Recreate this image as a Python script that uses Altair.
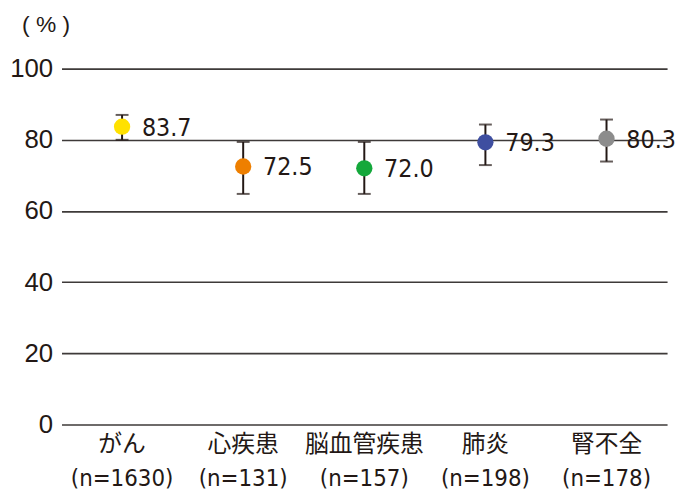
import altair as alt
import pandas as pd

categories = ["がん", "心疾患", "脳血管疾患", "肺炎", "腎不全"]
n_labels = ["(n=1630)", "(n=131)", "(n=157)", "(n=198)", "(n=178)"]
values = [83.7, 72.5, 72.0, 79.3, 80.3]
lower = [80.0, 64.8, 64.8, 72.9, 73.9]
upper = [87.0, 79.4, 79.4, 84.3, 85.7]
colors = ["#FFE100", "#EE7F00", "#14A83B", "#3E4EA0", "#8C8C8C"]
y_ticks = [0, 20, 40, 60, 80, 100]

labels = [c + "\n" + n for c, n in zip(categories, n_labels)]
df = pd.DataFrame({
    "label": labels,
    "value": values,
    "lower": lower,
    "upper": upper,
    "color": colors,
    "text": [f"{v:.1f}" for v in values],
})

INK = "#231815"
FONT = "Liberation Sans, Noto Sans CJK JP"
NARROW = "DejaVu Sans Condensed, Liberation Sans, Noto Sans CJK JP"

x = alt.X("label:N", sort=labels, title=None,
          scale=alt.Scale(paddingInner=0, paddingOuter=0),
          axis=alt.Axis(labelAngle=0, ticks=False, domain=False,
                        labelExpr="split(datum.label, '\\n')",
                        labelFont=NARROW, labelFontSize=24, labelColor=INK,
                        labelLineHeight=35, labelPadding=8, labelBaseline="top"))
y_scale = alt.Scale(domain=[0, 100], nice=False)

base = alt.Chart(df)

err = base.mark_rule(color=INK, strokeWidth=2).encode(
    x=x,
    y=alt.Y("lower:Q", scale=y_scale, title="( % )",
            axis=alt.Axis(values=y_ticks, ticks=False, domain=False,
                          grid=True, gridColor="#3e3a39", gridWidth=1.6,
                          labelFont=FONT, labelFontSize=26, labelColor=INK,
                          labelPadding=9,
                          titleFont=FONT, titleFontSize=23,
                          titleFontWeight="normal", titleColor=INK,
                          titleAngle=0, titleAlign="center", titleBaseline="middle",
                          titleX=-16, titleY=-45)),
    y2="upper:Q",
)
cap_lo = base.mark_tick(color=INK, thickness=2, size=13, orient="horizontal").encode(
    x=x, y=alt.Y("lower:Q", scale=y_scale))
cap_hi = base.mark_tick(color=INK, thickness=2, size=13, orient="horizontal").encode(
    x=x, y=alt.Y("upper:Q", scale=y_scale))
pts = base.mark_circle(size=270, opacity=1).encode(
    x=x, y=alt.Y("value:Q", scale=y_scale),
    color=alt.Color("color:N", scale=None))
txt = base.mark_text(align="left", baseline="middle", dx=20, dy=1,
                     font=NARROW, fontSize=25, color=INK).encode(
    x=x, y=alt.Y("value:Q", scale=y_scale), text="text:N")

chart = alt.layer(err, cap_lo, cap_hi, pts, txt).properties(
    width=611, height=359,
    autosize=alt.AutoSizeParams(type="none"),
    padding={"left": 54, "top": 59, "right": 8, "bottom": 74},
).configure_view(stroke=None).configure_axis(gridOpacity=1)

chart.save("out.html", embed_options={"renderer": "svg", "actions": False})
